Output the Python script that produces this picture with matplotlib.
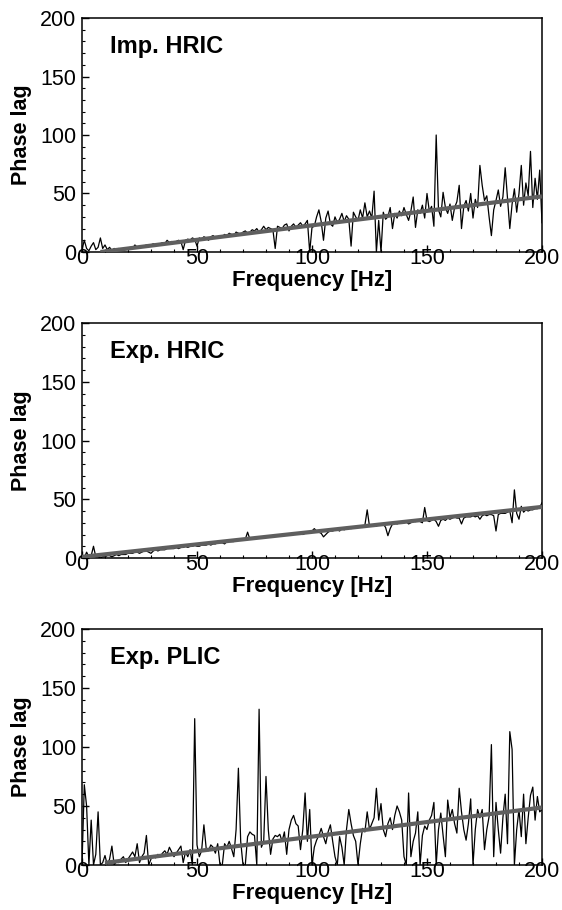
import matplotlib.pyplot as plt
from matplotlib.ticker import MultipleLocator
import numpy as np

# frequency axis, 1 Hz steps
freq = np.arange(0, 201)

# Imp. HRIC phase lag
imp_hric = [
    2, 10, 3, 1, 5, 8, 2, 4, 12, 3,
    6, 2, 4, 1, 3, 2, 3, 2, 3, 3,
    3, 4, 3, 6, 4, 4, 5, 5, 6, 5,
    6, 7, 6, 6, 7, 8, 7, 10, 8, 9,
    8, 9, 10, 9, 2, 10, 11, 10, 12, 11,
    5, 12, 11, 13, 12, 10, 13, 14, 12, 13,
    14, 13, 15, 14, 16, 15, 14, 17, 16, 15,
    17, 18, 16, 17, 19, 18, 20, 17, 19, 22,
    19, 21, 20, 19, 3, 22, 21, 20, 23, 24,
    18, 22, 24, 21, 23, 25, 22, 24, 27, 0,
    21, 22, 30, 36, 26, 10, 29, 35, 24, 22,
    30, 25, 28, 33, 26, 31, 28, 5, 34, 30,
    27, 36, 29, 42, 30, 35, 29, 52, 0, 27,
    0, 34, 28, 30, 38, 20, 33, 29, 35, 31,
    38, 32, 27, 35, 47, 21, 36, 33, 40, 29,
    50, 35, 39, 22, 100, 36, 30, 51, 38, 33,
    41, 27, 38, 43, 57, 20, 39, 44, 35, 50,
    29, 45, 38, 74, 57, 44, 48, 30, 14, 36,
    44, 53, 39, 47, 72, 46, 20, 41, 54, 34,
    50, 74, 40, 59, 48, 86, 38, 63, 45, 70,
    25,
]

# Exp. HRIC phase lag
exp_hric = [
    1, 0, 5, 1, 2, 10, 1, 1, 0, 1,
    1, 2, 2, 1, 2, 3, 2, 3, 3, 3,
    4, 4, 4, 5, 5, 4, 5, 6, 6, 5,
    4, 6, 7, 6, 7, 7, 7, 8, 8, 8,
    8, 9, 8, 9, 9, 10, 9, 10, 10, 11,
    10, 10, 11, 11, 11, 12, 11, 12, 12, 13,
    13, 13, 12, 14, 14, 14, 14, 15, 15, 15,
    15, 16, 22, 16, 16, 16, 17, 17, 17, 18,
    18, 18, 18, 19, 19, 19, 19, 20, 20, 20,
    20, 21, 20, 21, 21, 21, 20, 21, 22, 22,
    23, 25, 23, 22, 21, 18, 20, 22, 23, 23,
    24, 24, 23, 25, 24, 25, 26, 25, 26, 26,
    26, 27, 26, 28, 41, 27, 28, 28, 27, 29,
    28, 29, 26, 19, 25, 29, 30, 29, 30, 30,
    30, 31, 29, 30, 32, 31, 32, 31, 30, 43,
    32, 31, 32, 33, 31, 27, 32, 33, 32, 34,
    33, 34, 35, 34, 34, 29, 34, 35, 35, 35,
    36, 35, 36, 33, 36, 37, 36, 37, 37, 36,
    23, 37, 38, 38, 38, 39, 40, 30, 58, 38,
    33, 44, 39, 41, 40, 41, 41, 42, 42, 43,
    47,
]

# Exp. PLIC phase lag
exp_plic = [
    0, 68, 50, 0, 38, 0, 9, 45, 0, 2,
    8, 0, 5, 16, 0, 3, 2, 5, 7, 2,
    5, 8, 11, 7, 18, 2, 7, 10, 25, 0,
    5, 8, 6, 9, 7, 10, 12, 9, 15, 11,
    7, 10, 13, 16, 2, 11, 7, 13, 0, 124,
    17, 7, 12, 34, 14, 12, 17, 15, 10, 18,
    0, 0, 18, 15, 20, 14, 7, 30, 82, 20,
    0, 0, 24, 28, 26, 25, 0, 132, 15, 20,
    75, 30, 9, 22, 25, 24, 26, 20, 28, 9,
    30, 38, 42, 35, 33, 13, 30, 61, 20, 47,
    0, 15, 21, 25, 31, 24, 18, 28, 34, 20,
    7, 0, 24, 15, 0, 30, 47, 35, 25, 20,
    0, 18, 31, 28, 45, 30, 35, 40, 65, 38,
    52, 30, 24, 35, 40, 30, 42, 50, 45, 38,
    7, 0, 61, 7, 20, 27, 45, 0, 25, 33,
    30, 38, 42, 53, 0, 30, 44, 25, 7, 55,
    40, 47, 35, 27, 65, 45, 30, 21, 35, 56,
    0, 30, 47, 40, 47, 13, 30, 41, 102, 7,
    53, 30, 10, 40, 60, 18, 113, 98, 0, 30,
    47, 24, 60, 18, 40, 59, 66, 38, 58, 45,
    47,
]

# linear fits (end points)
fit_x = [[8, 200], [0, 200], [10, 200]]
fit_y = [[0, 47.5], [1, 43.5], [1.8, 48.7]]

titles = ['Imp. HRIC', 'Exp. HRIC', 'Exp. PLIC']
series = [imp_hric, exp_hric, exp_plic]

plt.rcParams['font.family'] = ['Liberation Sans', 'DejaVu Sans']

fig = plt.figure(figsize=(5.62, 9.10), dpi=100)
# axes boxes in figure fractions
boxes = [
    [0.1459, 0.7231, 0.8185, 0.2571],
    [0.1459, 0.3868, 0.8185, 0.2582],
    [0.1459, 0.0495, 0.8185, 0.2593],
]

for i in range(3):
    ax = fig.add_axes(boxes[i])
    ax.plot(freq, series[i], color='black', lw=0.9, zorder=2)
    ax.plot(fit_x[i], fit_y[i], color='#5f5f5f', lw=3.0,
            solid_capstyle='butt', zorder=3)

    ax.set_xlim(0, 200)
    ax.set_ylim(0, 200)
    ax.xaxis.set_major_locator(MultipleLocator(50))
    ax.xaxis.set_minor_locator(MultipleLocator(10))
    ax.yaxis.set_major_locator(MultipleLocator(50))
    ax.yaxis.set_minor_locator(MultipleLocator(10))
    ax.tick_params(axis='both', which='both', direction='in',
                   top=False, right=False, labelsize=15.5, width=1.0)
    ax.tick_params(which='major', length=5)
    ax.tick_params(which='minor', length=2.2, width=0.8)
    ax.tick_params(axis='x', pad=-3)
    ax.tick_params(axis='y', pad=4)
    for s in ax.spines.values():
        s.set_linewidth(1.1)

    ax.set_xlabel('Frequency [Hz]', fontsize=16, fontweight='bold', labelpad=1)
    ax.set_ylabel('Phase lag', fontsize=15.5, fontweight='bold', labelpad=6)
    ax.text(0.061, 0.852, titles[i], transform=ax.transAxes,
            fontsize=17, fontweight='bold', va='baseline', ha='left')

fig.savefig('out.png', dpi=100)
